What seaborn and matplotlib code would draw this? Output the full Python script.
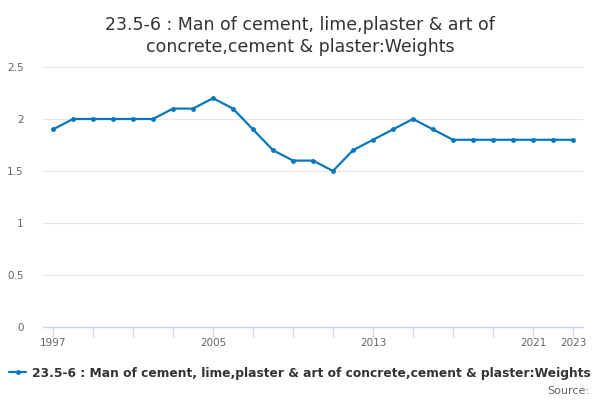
import numpy as np
import pandas as pd
import matplotlib
matplotlib.use('Agg')
import matplotlib.pyplot as plt
import seaborn as sns

years = list(range(1997, 2024))
values = [1.9, 2.0, 2.0, 2.0, 2.0, 2.0, 2.1, 2.1, 2.2, 2.1,
          1.9, 1.7, 1.6, 1.6, 1.5, 1.7, 1.8, 1.9, 2.0, 1.9,
          1.8, 1.8, 1.8, 1.8, 1.8, 1.8, 1.8]
series_name = '23.5-6 : Man of cement, lime,plaster & art of concrete,cement & plaster:Weights'
title = '23.5-6 : Man of cement, lime,plaster & art of\nconcrete,cement & plaster:Weights'
y_ticks = [0, 0.5, 1, 1.5, 2, 2.5]
y_labels = ['0', '0.5', '1', '1.5', '2', '2.5']
x_ticks = list(range(1997, 2024, 2))
x_labels = ['1997', '', '', '', '2005', '', '', '', '2013', '', '', '', '2021', '2023']

df = pd.DataFrame({'Year': years, 'Value': values})

sns.set_style('white')
plt.rcParams['font.family'] = ['DejaVu Sans']

fig = plt.figure(figsize=(6, 4), dpi=100)
ax = fig.add_axes([43 / 600, 1 - 327 / 400, 540 / 600, 260 / 400])

color = '#0a77bd'
sns.lineplot(data=df, x='Year', y='Value', ax=ax, color=color, linewidth=1.6,
             marker='o', markersize=3.5, markeredgewidth=0, label=series_name, legend=False)

ax.set_xlim(1996.5, 2023.5)
ax.set_ylim(0, 2.5)
ax.set_yticks(y_ticks)
ax.set_yticklabels(y_labels)
ax.set_xticks(x_ticks)
ax.set_xticklabels(x_labels)
ax.set_xlabel('')
ax.set_ylabel('')

for y in y_ticks[1:]:
    ax.axhline(y, color='#e6e6e6', linewidth=0.8, zorder=0)

for s in ['top', 'right', 'left']:
    ax.spines[s].set_visible(False)
ax.spines['bottom'].set_color('#ccd6eb')
ax.spines['bottom'].set_linewidth(1)

ax.tick_params(axis='x', bottom=True, direction='out', length=7, width=1,
               color='#ccd6eb', labelsize=7.5, labelcolor='#666666', pad=1)
ax.tick_params(axis='y', left=False, length=0, labelsize=7.5, labelcolor='#666666', pad=14)

fig.text(0.5, 0.96, title, ha='center', va='top', fontsize=12.5, color='#333333',
         linespacing=1.25)

handles, labels = ax.get_legend_handles_labels()
fig.legend(handles, labels, loc='center', bbox_to_anchor=(0.5, 1 - 373 / 400),
           frameon=False, prop={'weight': 'bold', 'size': 8.85}, handlelength=1.4,
           handletextpad=0.5, labelcolor='#333333')

fig.text(589 / 600, 1 - 391 / 400, 'Source:', ha='right', va='center',
         fontsize=8, color='#666666')

fig.savefig('out.png', dpi=100)
